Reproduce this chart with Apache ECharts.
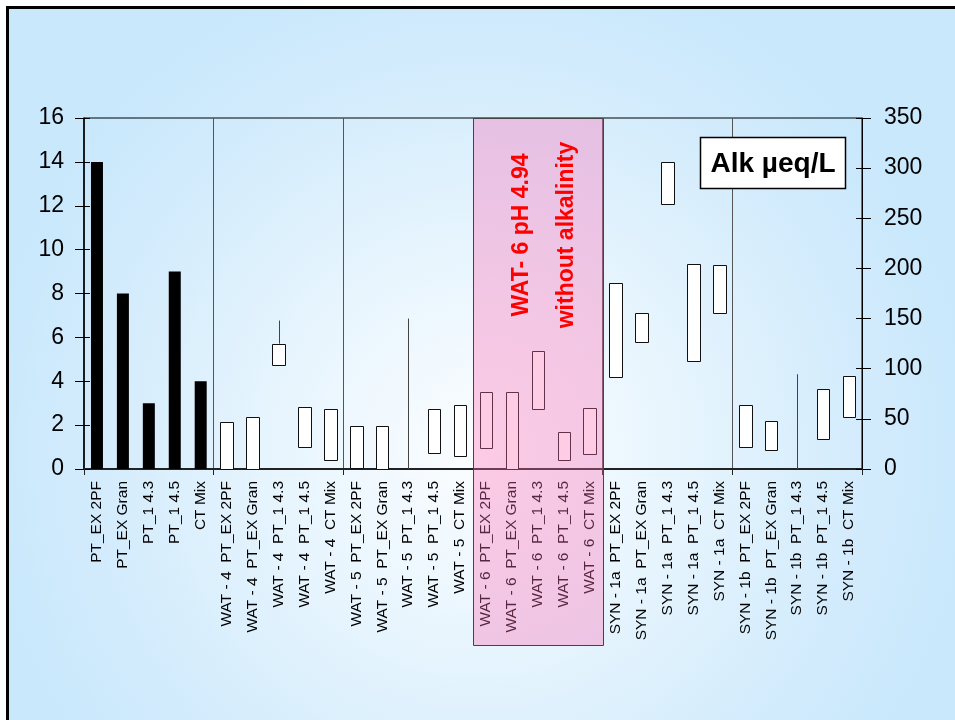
<!DOCTYPE html>
<html>
<head>
<meta charset="utf-8">
<script src="https://cdn.jsdelivr.net/npm/echarts@6/dist/echarts.min.js"></script>
<style>
  html, body { margin: 0; padding: 0; background: #fff; }
  #chart { width: 955px; height: 720px; }
</style>
</head>
<body>
<div id="chart"></div>
<script>
// Categories along the x axis: reference samples, then 5 titration methods per water
const categories = [
  'PT_EX 2PF', 'PT_EX Gran', 'PT_1 4.3', 'PT_1 4.5', 'CT Mix',
  'WAT - 4  PT_EX 2PF', 'WAT - 4  PT_EX Gran', 'WAT - 4  PT_1 4.3', 'WAT - 4  PT_1 4.5', 'WAT - 4  CT Mix',
  'WAT - 5  PT_EX 2PF', 'WAT - 5  PT_EX Gran', 'WAT - 5  PT_1 4.3', 'WAT - 5  PT_1 4.5', 'WAT - 5  CT Mix',
  'WAT - 6  PT_EX 2PF', 'WAT - 6  PT_EX Gran', 'WAT - 6  PT_1 4.3', 'WAT - 6  PT_1 4.5', 'WAT - 6  CT Mix',
  'SYN - 1a  PT_EX 2PF', 'SYN - 1a  PT_EX Gran', 'SYN - 1a  PT_1 4.3', 'SYN - 1a  PT_1 4.5', 'SYN - 1a  CT Mix',
  'SYN - 1b  PT_EX 2PF', 'SYN - 1b  PT_EX Gran', 'SYN - 1b  PT_1 4.3', 'SYN - 1b  PT_1 4.5', 'SYN - 1b  CT Mix'
];

// Left axis: number of results per method (black bars)
const methodCounts = [14, 8, 3, 9, 4];

// Right axis: alkalinity range (µeq/L) per water and method, low / high ends of each box
const boxLow = [
  '-', '-', '-', '-', '-',
  0, 0, 104, 22, 9,
  1.3, 0, '-', 16, 13,
  21, 0, 60, 9, 15,
  92, 127, 264, 108, 156,
  22, 19, '-', 30, 52
];
const boxHigh = [
  '-', '-', '-', '-', '-',
  47, 52, 125, 61.5, 60,
  43, 42.6, '-', 60, 64,
  77, 77, 118, 37, 61,
  185, 156, 306, 204, 203,
  63.5, 48, '-', 80, 93
];

// Right axis: single results / outliers drawn as thin vertical lines
const lineLow = [
  '-', '-', '-', '-', '-',
  '-', '-', 125, '-', '-',
  '-', '-', 0, '-', '-',
  '-', '-', '-', '-', '-',
  '-', '-', '-', '-', '-',
  '-', '-', 0, '-', '-'
];
const lineHigh = [
  '-', '-', '-', '-', '-',
  '-', '-', 148, '-', '-',
  '-', '-', 150, '-', '-',
  '-', '-', '-', '-', '-',
  '-', '-', '-', '-', '-',
  '-', '-', 94.5, '-', '-'
];

const leftTicks = { min: 0, max: 16, interval: 2 };
const rightTicks = { min: 0, max: 350, interval: 50 };

const FONT = 'Liberation Sans, Arial, Helvetica, sans-serif';
const groupSize = 5;

const chart = echarts.init(document.getElementById('chart'), null, { renderer: 'canvas' });

const barData = categories.map((c, i) => (i < methodCounts.length ? methodCounts[i] : '-'));
const boxData = [];
boxLow.forEach((lo, i) => {
  if (lo !== '-' && boxHigh[i] !== '-') boxData.push([i, lo, boxHigh[i]]);
});
const lineData = [];
lineLow.forEach((lo, i) => {
  if (lo !== '-' && lineHigh[i] !== '-') lineData.push([i, lo, lineHigh[i]]);
});

function crisp(v) { return Math.round(v) + 0.5; }

const option = {
  backgroundColor: '#ffffff',
  animation: false,
  grid: {
    left: 84, right: 93, top: 118, bottom: 251,
    show: true, borderColor: '#000', borderWidth: 1, backgroundColor: 'transparent'
  },
  xAxis: {
    type: 'category',
    data: categories,
    boundaryGap: true,
    axisLine: { lineStyle: { color: '#222', width: 2 } },
    axisTick: {
      show: true, length: 6,
      interval: (i) => i % groupSize === 0,
      lineStyle: { color: '#222', width: 1 }
    },
    axisLabel: {
      interval: 0, rotate: 90, margin: 12,
      fontSize: 15.5, color: '#000', fontFamily: FONT
    },
    splitLine: {
      show: true,
      interval: (i) => i > 0 && i % groupSize === 0,
      lineStyle: { color: '#555', width: 1 }
    }
  },
  yAxis: [
    {
      type: 'value', position: 'left', ...leftTicks,
      axisLine: { show: true, lineStyle: { color: '#000', width: 1.5 } },
      axisTick: { show: true, length: 9, lineStyle: { color: '#000' } },
      axisLabel: { fontSize: 23, color: '#000', margin: 20, fontFamily: FONT },
      splitLine: { show: false }
    },
    {
      type: 'value', position: 'right', ...rightTicks,
      axisLine: { show: true, lineStyle: { color: '#000', width: 1 } },
      axisTick: { show: true, length: 9, lineStyle: { color: '#000' } },
      axisLabel: { fontSize: 23, color: '#000', margin: 22, fontFamily: FONT },
      splitLine: { show: false }
    },
    {
      type: 'value', position: 'left', ...leftTicks,
      axisLine: { show: false },
      axisTick: { show: true, inside: true, length: 6, lineStyle: { color: '#000' } },
      axisLabel: { show: false },
      splitLine: { show: false }
    },
    {
      type: 'value', position: 'right', ...rightTicks,
      axisLine: { show: false },
      axisTick: { show: true, inside: true, length: 6, lineStyle: { color: '#000' } },
      axisLabel: { show: false },
      splitLine: { show: false }
    }
  ],
  series: [
    {
      name: 'count',
      type: 'bar',
      yAxisIndex: 0,
      data: barData,
      barWidth: 12,
      itemStyle: { color: '#000' },
      z: 3
    },
    {
      name: 'range',
      type: 'custom',
      yAxisIndex: 1,
      data: boxData,
      encode: { x: 0, y: [1, 2] },
      z: 4,
      renderItem: (params, api) => {
        const i = api.value(0);
        const top = api.coord([i, api.value(2)]);
        const bot = api.coord([i, api.value(1)]);
        const w = api.size([1, 0])[0] * 0.48;
        const x0 = crisp(top[0] - w / 2);
        const x1 = crisp(top[0] + w / 2);
        const y0 = crisp(top[1]);
        const y1 = crisp(bot[1]);
        return {
          type: 'rect',
          shape: { x: x0, y: y0, width: x1 - x0, height: y1 - y0 },
          style: { fill: '#ffffff', stroke: '#111', lineWidth: 1 }
        };
      }
    },
    {
      name: 'single',
      type: 'custom',
      yAxisIndex: 1,
      data: lineData,
      encode: { x: 0, y: [1, 2] },
      z: 4,
      renderItem: (params, api) => {
        const i = api.value(0);
        const top = api.coord([i, api.value(2)]);
        const bot = api.coord([i, api.value(1)]);
        const x = crisp(top[0]);
        return {
          type: 'line',
          shape: { x1: x, y1: top[1], x2: x, y2: bot[1] },
          style: { stroke: '#444', lineWidth: 1 }
        };
      }
    }
  ]
};

chart.setOption(option);

// Highlight band over the WAT - 6 group, located through the category scale
const c0 = chart.convertToPixel({ xAxisIndex: 0 }, 15);
const c1 = chart.convertToPixel({ xAxisIndex: 0 }, 16);
const c4 = chart.convertToPixel({ xAxisIndex: 0 }, 19);
const band = c1 - c0;
const bandLeft = Math.round(c0 - band / 2) + 0.5;
const bandRight = Math.round(c4 + band / 2) + 0.5;
const plotTop = chart.convertToPixel({ yAxisIndex: 1 }, rightTicks.max);

chart.setOption({
  graphic: [
    {
      id: 'bg',
      type: 'rect',
      z: -100,
      silent: true,
      shape: { x: 7.5, y: 7.5, width: 1000, height: 800 },
      style: {
        fill: {
          type: 'radial', x: 0.47, y: 0.55, r: 0.62,
          colorStops: [
            { offset: 0, color: '#fbfdff' },
            { offset: 0.35, color: '#eaf6fe' },
            { offset: 0.75, color: '#d4ecfc' },
            { offset: 1, color: '#c9e8fc' }
          ]
        },
        stroke: '#000', lineWidth: 3
      }
    },
    {
      id: 'band',
      type: 'rect',
      z: 100,
      silent: true,
      shape: { x: bandLeft, y: Math.round(plotTop) + 0.5, width: bandRight - bandLeft, height: 645 - Math.round(plotTop) },
      style: { fill: 'rgba(255,110,180,0.35)', stroke: '#444', lineWidth: 1 }
    },
    {
      id: 'note1',
      type: 'text',
      z: 101,
      x: 522, y: 235,
      rotation: Math.PI / 2,
      style: {
        text: 'WAT- 6 pH 4.94', fill: '#ff0000',
        font: 'bold 23px ' + FONT, align: 'center', verticalAlign: 'middle'
      }
    },
    {
      id: 'note2',
      type: 'text',
      z: 101,
      x: 567, y: 235,
      rotation: Math.PI / 2,
      style: {
        text: 'without alkalinity', fill: '#ff0000',
        font: 'bold 23px ' + FONT, align: 'center', verticalAlign: 'middle'
      }
    },
    {
      id: 'unitBox',
      type: 'rect',
      z: 100,
      shape: { x: 700.5, y: 137.5, width: 145, height: 51 },
      style: { fill: '#fff', stroke: '#000', lineWidth: 1.5 }
    },
    {
      id: 'unitText',
      type: 'text',
      z: 101,
      x: 773, y: 164,
      style: {
        text: 'Alk µeq/L', fill: '#000',
        font: 'bold 28px ' + FONT, align: 'center', verticalAlign: 'middle'
      }
    }
  ]
});
</script>
</body>
</html>
